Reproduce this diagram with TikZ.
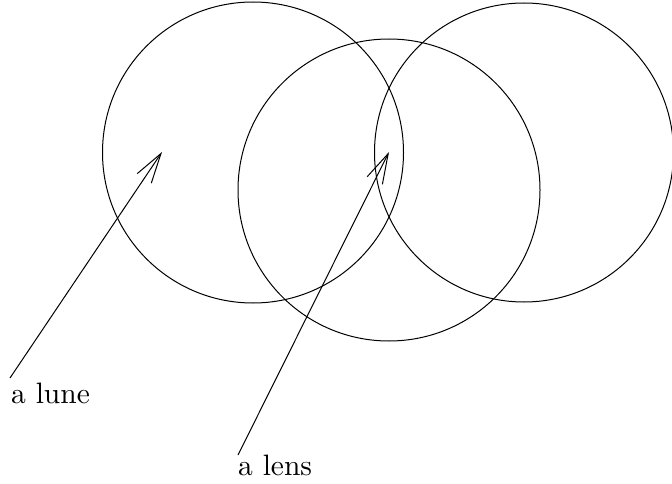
\documentclass[tikz,border=0pt]{standalone}
\usepackage{fontspec}
\newfontfamily\labfont[Extension=.otf]{lmroman10-regular}
\usetikzlibrary{arrows.meta}
\begin{document}
\begin{tikzpicture}[x=1pt,y=-1pt,
  ring/.style={draw,line width=1pt},
  pointer/.style={draw,line width=1pt,-{Straight Barb[length=30pt,width=17pt]}},
  label/.style={inner sep=0pt,anchor=base west,font=\labfont\fontsize{29.5}{33}\selectfont}]
\useasboundingbox (0,0) rectangle (672,484);
\node[ring,circle,minimum size=301pt,inner sep=0pt] (L) at (253,152.5) {};
\node[ring,circle,minimum size=302pt,inner sep=0pt] (M) at (389,190) {};
\node[ring,circle,minimum size=299pt,inner sep=0pt] (R) at (524,152.5) {};
\node[label] (lune) at (11,403) {a lune};
\node[label] (lens) at (238,475.5) {a lens};
\coordinate (luneend) at (10,378);
\coordinate (lensend) at (238,455);
\coordinate (lunetip) at (162,152);
\coordinate (lenstip) at (389,152);
\draw[pointer] (luneend) -- (lunetip);
\draw[pointer] (lensend) -- (lenstip);
\end{tikzpicture}
\end{document}
